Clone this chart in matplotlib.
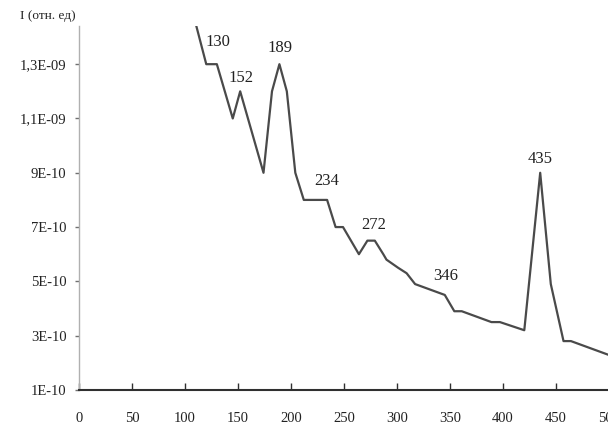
import matplotlib
matplotlib.use('Agg')
import matplotlib.pyplot as plt
from matplotlib.ticker import FixedLocator, FixedFormatter

# spectrum: position vs intensity (relative units)
pos = [110, 120, 130, 145, 152, 174, 182, 189, 196, 204, 212, 234, 242, 249,
       264, 272, 279, 287, 290, 301, 309, 317, 345, 354, 361, 389, 397, 420,
       435, 445, 457, 464, 499, 550]
inten = [1.45e-9, 1.3e-9, 1.3e-9, 1.1e-9, 1.2e-9, 9e-10, 1.2e-9, 1.3e-9, 1.2e-9,
         9e-10, 8e-10, 8e-10, 7e-10, 7e-10, 6e-10, 6.5e-10, 6.5e-10, 6e-10,
         5.8e-10, 5.5e-10, 5.3e-10, 4.9e-10, 4.5e-10, 3.9e-10, 3.9e-10,
         3.5e-10, 3.5e-10, 3.2e-10, 9e-10, 4.9e-10, 2.8e-10, 2.8e-10, 2.3e-10,
         1.6e-10]

# labelled peaks
peak_x = [130, 152, 189, 234, 272, 346, 435]
peak_y = [1.3e-9, 1.2e-9, 1.3e-9, 8e-10, 6.5e-10, 4.5e-10, 9e-10]
peak_dx = [1, 1, 1, 0, 6, 0, 0]
peak_dy = [22, 13, 16, 19, 16, 19, 14]

yticks = [1e-10, 3e-10, 5e-10, 7e-10, 9e-10, 1.1e-9, 1.3e-9]
ytick_labels = ['1E-10', '3E-10', '5E-10', '7E-10', '9E-10', '1,1E-09', '1,3E-09']
xticks = [0, 50, 100, 150, 200, 250, 300, 350, 400, 450, 500, 550]

plt.rcParams['font.family'] = ['Liberation Serif', 'DejaVu Serif']

fig = plt.figure(figsize=(6.08, 4.29), dpi=100)
ax = fig.add_axes([0.13, 0.091, 0.959, 0.848])

ax.plot(pos, inten, color='#4a4a4a', lw=1.6)

for x, y, dx, dy in zip(peak_x, peak_y, peak_dx, peak_dy):
    ax.annotate(str(x), (x, y), xytext=(dx, dy), textcoords='offset pixels',
                ha='center', va='center', fontsize=12, color='#222222')

ax.set_xlim(0, 550)
ax.set_ylim(1e-10, 1.44e-9)
ax.xaxis.set_major_locator(FixedLocator(xticks))
ax.yaxis.set_major_locator(FixedLocator(yticks))
ax.yaxis.set_major_formatter(FixedFormatter(ytick_labels))

for side in ['top', 'right']:
    ax.spines[side].set_visible(False)
ax.spines['left'].set_color('#b0b0b0')
ax.spines['left'].set_linewidth(1.0)
ax.spines['bottom'].set_color('#303030')
ax.spines['bottom'].set_linewidth(1.5)

ax.tick_params(axis='y', direction='out', length=3, width=1, color='#707070',
               labelsize=10.5, labelcolor='#222222', pad=6)
ax.tick_params(axis='x', direction='in', length=5, width=1, color='#303030',
               labelsize=10.5, labelcolor='#222222', pad=16)

fig.text(0.078, 0.962, 'I (отн. ед)', fontsize=9.5, ha='center', va='center',
         color='#222222')

fig.savefig('out.png', dpi=100)
